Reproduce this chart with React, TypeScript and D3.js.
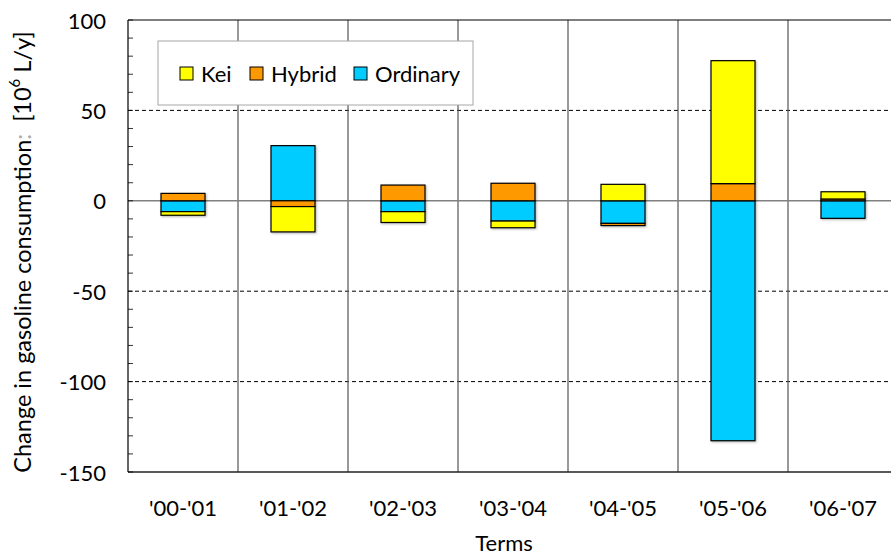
import React from 'react';
import * as d3 from 'd3';

const terms = ["'00-'01", "'01-'02", "'02-'03", "'03-'04", "'04-'05", "'05-'06", "'06-'07"];
const kei = [-2, -14, -6, -3.7, 9.1, 68, 4];
const hybrid = [4.1, -3.2, 8.7, 9.7, -1.2, 9.5, 1];
const ordinary = [-6, 30.5, -6, -11.2, -12.5, -132.7, -9.7];
const yTicks = [100, 50, 0, -50, -100, -150];
const dashedTicks = [50, -50, -100];
const legendNames = ['Kei', 'Hybrid', 'Ordinary'];
const stackOrder = ['Ordinary', 'Hybrid', 'Kei'];
const colorMap: Record<string, string> = { Kei: '#FFFF00', Hybrid: '#FF9900', Ordinary: '#00CCFF' };

const W = 891, H = 556;
const left = 128, right = 898, top = 20, bottom = 472;
const FONT = 'Lato, "Open Sans", sans-serif';

export default function App() {
  const x = d3.scaleBand<string>().domain(terms).range([left, right]).padding(0);
  const y = d3.scaleLinear().domain([-150, 100]).range([bottom, top]);
  const rows = terms.map((t, i) => ({ term: t, Kei: kei[i], Hybrid: hybrid[i], Ordinary: ordinary[i] }));
  const stacked = d3.stack<any>().keys(stackOrder).offset(d3.stackOffsetDiverging)(rows);
  const bw = x.bandwidth() * 0.4;
  const minor = d3.range(-150, 101, 10);

  const legendX = 158, legendY = 41;
  const legendItems = [
    { name: legendNames[0], sx: 180, tx: 201 },
    { name: legendNames[1], sx: 250, tx: 271 },
    { name: legendNames[2], sx: 354, tx: 375 },
  ];

  return (
    <svg width={W} height={H} style={{ position: 'absolute', left: 0, top: 0, background: '#fff' }} fontFamily={FONT}>
      <defs>
        <filter id="sh" x="-20%" y="-20%" width="140%" height="140%">
          <feDropShadow dx="1" dy="1" stdDeviation="0.8" floodColor="#000" floodOpacity="0.3" />
        </filter>
      </defs>
      <rect x={0} y={0} width={W} height={H} fill="#fff" />
      {dashedTicks.map(v => (
        <line key={'d' + v} x1={left} x2={right} y1={y(v)} y2={y(v)} stroke="#000" strokeWidth={1} strokeDasharray="4,3" />
      ))}
      {terms.slice(1).map(t => (
        <line key={'v' + t} x1={x(t)!} x2={x(t)!} y1={top} y2={bottom} stroke="#555" strokeWidth={1.2} />
      ))}
      <line x1={left} x2={right} y1={y(0)} y2={y(0)} stroke="#808080" strokeWidth={1.6} />
      <line x1={left} x2={right} y1={top} y2={top} stroke="#000" strokeWidth={1.2} />
      <line x1={left} x2={right} y1={bottom} y2={bottom} stroke="#222" strokeWidth={1.6} />
      <line x1={left} x2={left} y1={top} y2={bottom} stroke="#000" strokeWidth={1.2} />
      {minor.map(v => (
        <line key={'m' + v} x1={left} x2={left + 5} y1={y(v)} y2={y(v)} stroke="#000" strokeWidth={0.8} />
      ))}
      <g filter="url(#sh)">
        {stacked.map(s => (
          <g key={s.key}>
            {s.map((d, i) => {
              const y0 = Math.min(y(d[0]), y(d[1]));
              const h = Math.abs(y(d[0]) - y(d[1]));
              if (h < 0.01) return null;
              return (
                <rect key={i} x={x(terms[i])! + (x.bandwidth() - bw) / 2} y={y0} width={bw} height={h}
                  fill={colorMap[s.key]} stroke="#000" strokeWidth={1.2} />
              );
            })}
          </g>
        ))}
      </g>
      <rect x={legendX} y={legendY} width={315} height={64} fill="#fff" stroke="#a6a6a6" strokeWidth={1} />
      {legendItems.map(it => (
        <g key={it.name}>
          <rect x={it.sx} y={67} width={13} height={13} fill={colorMap[it.name]} stroke="#000" strokeWidth={1} />
          <text x={it.tx} y={73.5} dominantBaseline="central" fontSize={22} fill="#000">{it.name}</text>
        </g>
      ))}
      {yTicks.map(v => (
        <text key={'yt' + v} x={106} y={y(v)} textAnchor="end" dominantBaseline="central" fontSize={22} fill="#000">{v}</text>
      ))}
      {terms.map(t => (
        <text key={'xt' + t} x={x(t)! + x.bandwidth() / 2} y={507} textAnchor="middle" dominantBaseline="central" fontSize={22} fill="#000">{t}</text>
      ))}
      <text x={504} y={542} textAnchor="middle" dominantBaseline="central" fontSize={22} fill="#000">Terms</text>
      <text transform="rotate(-90)" x={-252} y={22} textAnchor="middle" dominantBaseline="central" fontSize={23.5} fill="#000">
        Change in gasoline consumption<tspan fill="#aaa">:</tspan>{'\u00a0\u00a0[10'}<tspan dy={-8} fontSize={15}>6</tspan><tspan dy={8}>{' L/y]'}</tspan>
      </text>
    </svg>
  );
}
